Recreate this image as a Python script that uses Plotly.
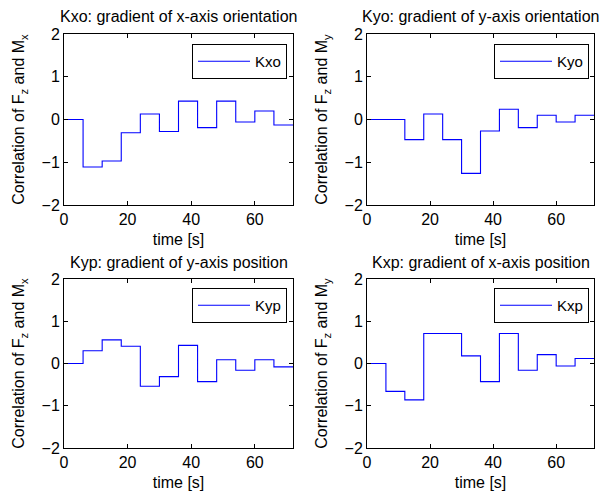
import plotly.graph_objects as go

# Data: step times [s] (start of each 6 s window, plus the end point)
time_s = [0, 6, 12, 18, 24, 30, 36, 42, 48, 54, 60, 66, 72]

kxo = [0.00, -1.11, -0.97, -0.31, 0.13, -0.28, 0.43, -0.19, 0.43, -0.06, 0.20, -0.13]
kyo = [0.00, 0.00, -0.47, 0.13, -0.47, -1.26, -0.27, 0.24, -0.19, 0.10, -0.06, 0.10]
kyp = [0.00, 0.30, 0.56, 0.41, -0.54, -0.31, 0.43, -0.43, 0.09, -0.16, 0.09, -0.08]
kxp = [0.00, -0.66, -0.86, 0.71, 0.71, 0.18, -0.43, 0.71, -0.16, 0.21, -0.06, 0.12]

series_names = ["Kxo", "Kyo", "Kyp", "Kxp"]
series_vals = [kxo, kyo, kyp, kxp]
titles = [
    "Kxo: gradient of x-axis orientation",
    "Kyo: gradient of y-axis orientation",
    "Kyp: gradient of y-axis position",
    "Kxp: gradient of x-axis position",
]
ylabels = [
    "Correlation of F<sub>z</sub> and M<sub>x</sub>",
    "Correlation of F<sub>z</sub> and M<sub>y</sub>",
    "Correlation of F<sub>z</sub> and M<sub>x</sub>",
    "Correlation of F<sub>z</sub> and M<sub>y</sub>",
]
x_ticks = [0, 20, 40, 60]
y_ticks = [-2, -1, 0, 1, 2]

W, H = 605, 493
FONT = "Arial, Liberation Sans, Helvetica, sans-serif"
FS = 16

# pixel boxes (left, right, top, bottom)
boxes = [(64, 293, 34, 205), (367, 594, 34, 205), (64, 293, 279, 448), (367, 594, 279, 448)]
legend_pos = [(287, 44), (589, 44), (287, 288), (589, 288)]
title_y = [17, 17, 262, 262]

fig = go.Figure()
layout = dict(
    width=W, height=H,
    margin=dict(l=0, r=0, t=0, b=0, autoexpand=False),
    paper_bgcolor="white", plot_bgcolor="white",
    font=dict(family=FONT, size=FS, color="black"),
    showlegend=True,
    annotations=[],
)

for i in range(4):
    n = "" if i == 0 else str(i + 1)
    l, r, t, b = boxes[i]
    vals = series_vals[i] + [series_vals[i][-1]]
    leg = "legend" if i == 0 else f"legend{i+1}"
    fig.add_trace(go.Scatter(
        x=time_s, y=vals, mode="lines", line=dict(color="#0000ff", width=1.1, shape="hv"),
        name=series_names[i], xaxis=f"x{n}", yaxis=f"y{n}", legend=leg,
    ))
    axcommon = dict(showgrid=False, zeroline=False, showline=True, linecolor="black",
                    linewidth=1, mirror="ticks", ticks="inside", ticklen=4,
                    tickcolor="black", tickfont=dict(size=FS, family=FONT), automargin=False)
    layout[f"xaxis{n}"] = dict(domain=[l / W, r / W], range=[0, 72], tickvals=x_ticks,
                               anchor=f"y{n}", title=dict(text="time [s]", standoff=6,
                                                          font=dict(size=FS)),
                               **axcommon)
    layout[f"yaxis{n}"] = dict(domain=[1 - b / H, 1 - t / H], range=[-2, 2], tickvals=y_ticks,
                               anchor=f"x{n}", title=dict(text=ylabels[i], standoff=12,
                                                          font=dict(size=FS)),
                               **axcommon)
    lx, ly = legend_pos[i]
    layout[leg] = dict(x=lx / W, y=1 - ly / H, xanchor="right", yanchor="top",
                       bgcolor="white", bordercolor="black", borderwidth=1,
                       font=dict(size=15, family=FONT), itemwidth=52)
    layout["annotations"].append(dict(
        text=titles[i], x=(l + r) / 2 / W, y=1 - title_y[i] / H, xref="paper", yref="paper",
        xanchor="center", yanchor="middle", showarrow=False, font=dict(size=FS, family=FONT)))

fig.update_layout(**layout)
fig.write_html("out.html", config={"displayModeBar": False},
               post_script="document.body.style.margin='0px';document.body.style.overflow='hidden';")
